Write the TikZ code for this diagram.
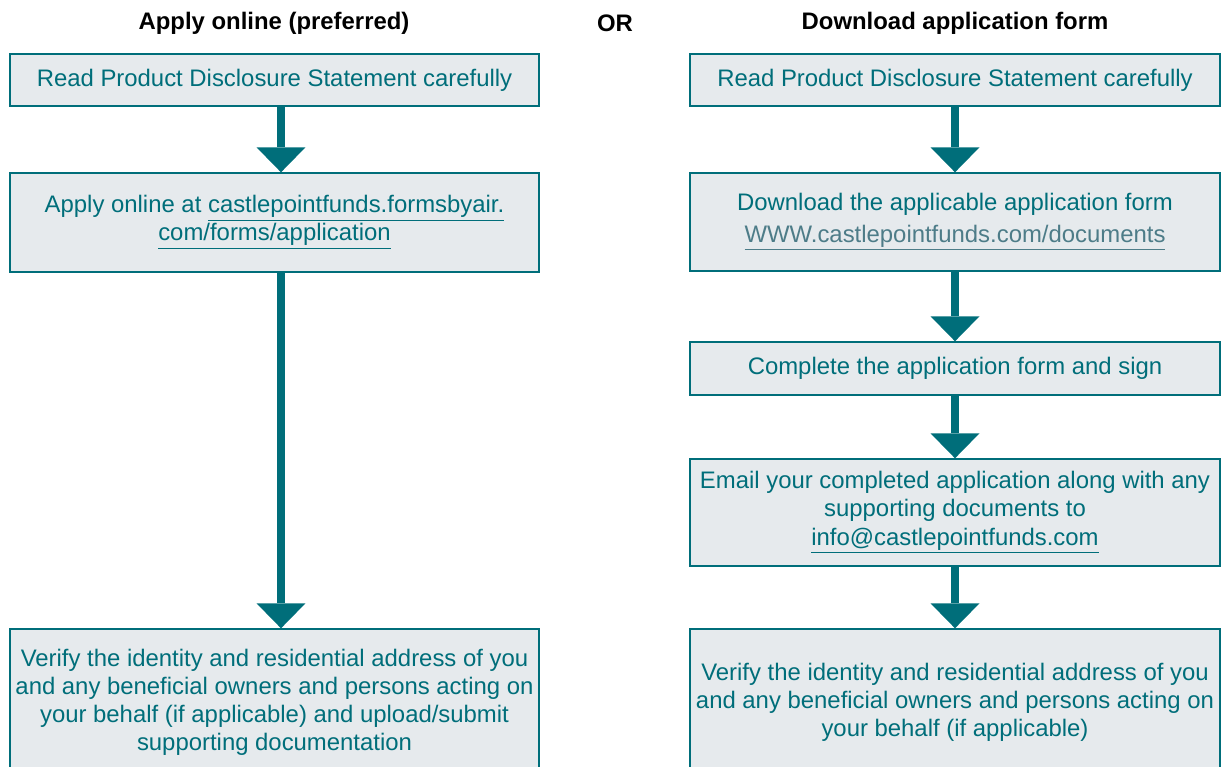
\documentclass[tikz,border=0pt]{standalone}
\usepackage{fontspec}
\setmainfont{Liberation Sans}
\usetikzlibrary{arrows.meta}
\definecolor{CPTeal}{HTML}{006E7A}
\definecolor{CPFill}{HTML}{E6EAED}
\definecolor{CPLink}{HTML}{4D7C88}

\newcommand{\weblink}[1]{\underline{#1}}

\tikzset{
  stepbox/.style={draw=CPTeal, line width=0.8pt, fill=CPFill, text=CPTeal,
    align=center, inner sep=0pt, font=\fontsize{13.6}{16}\selectfont},
  heading/.style={font=\fontsize{13.6}{16}\selectfont\bfseries, text=black},
  flowarrow/.style={CPTeal, line width=0.15cm,
    -{Triangle[width=0.98cm, length=0.5cm, line width=0pt]}}
}

\begin{document}
\begin{tikzpicture}[x=0.02cm, y=-0.02cm]
	\useasboundingbox (0,0) rectangle (1221,767);
	\clip (0,0) rectangle (1221,767);

	% headings
	\node[heading] (hleft) at (274,23) {Apply online (preferred)};
	\node[heading] (hor) at (615,23) {OR};
	\node[heading] (hright) at (955,23) {Download application form};

	% online column
	\node[stepbox, minimum width=10.58cm, minimum height=1.04cm] (lread) at (274.5,80)
		{Read Product Disclosure Statement carefully};
	\node[stepbox, minimum width=10.58cm, minimum height=1.98cm] (lapply) at (274.5,222.5)
		{Apply online at \weblink{castlepointfunds.formsbyair.}\\\weblink{com/forms/application}};
	\node[stepbox, minimum width=10.58cm, minimum height=2.92cm] (lverify) at (274.5,702)
		{Verify the identity and residential address of you\\and any beneficial owners and persons acting on\\your behalf (if applicable) and upload/submit\\supporting documentation};
	\coordinate (lcol) at (281,0);

	% form column
	\node[stepbox, minimum width=10.6cm, minimum height=1.04cm] (rread) at (955,80)
		{Read Product Disclosure Statement carefully};
	\node[stepbox, minimum width=10.6cm, minimum height=1.96cm] (rdown) at (955,222)
		{Download the applicable application form\\[2pt]{\color{CPLink}\weblink{WWW.castlepointfunds.com/documents}}};
	\node[stepbox, minimum width=10.6cm, minimum height=1.06cm] (rsign) at (955,368.5)
		{Complete the application form and sign};
	\node[stepbox, minimum width=10.6cm, minimum height=2.14cm] (remail) at (955,512.5)
		{Email your completed application along with any\\supporting documents to\\\weblink{info@castlepointfunds.com}};
	\node[stepbox, minimum width=10.6cm, minimum height=2.92cm] (rverify) at (955,702)
		{Verify the identity and residential address of you\\and any beneficial owners and persons acting on\\your behalf (if applicable)};

	% arrows
	\draw[flowarrow] (lread.south -| lcol) -- (lapply.north -| lcol);
	\draw[flowarrow] (lapply.south -| lcol) -- (lverify.north -| lcol);
	\draw[flowarrow] (rread) -- (rdown);
	\draw[flowarrow] (rdown) -- (rsign);
	\draw[flowarrow] (rsign) -- (remail);
	\draw[flowarrow] (remail) -- (rverify);
\end{tikzpicture}
\end{document}
